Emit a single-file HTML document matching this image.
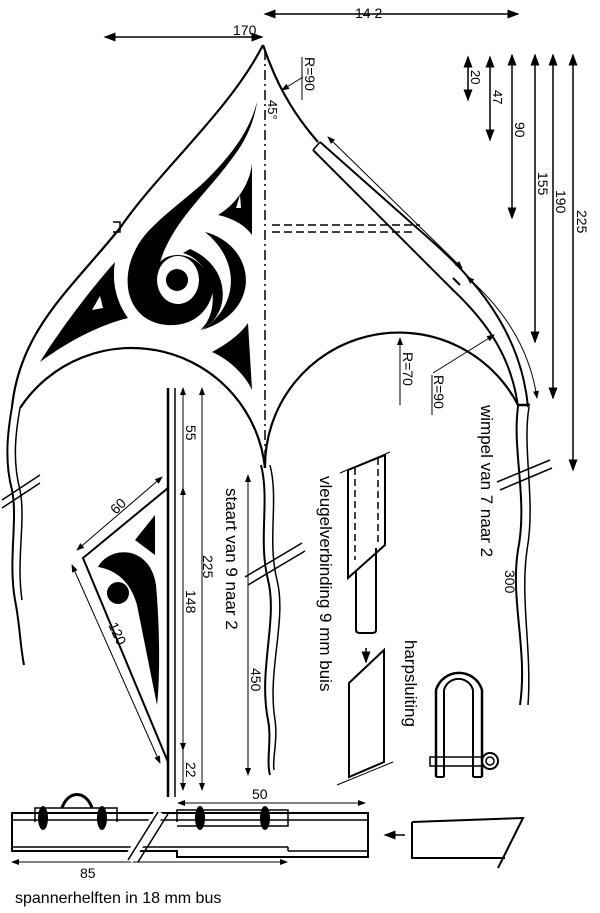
<!DOCTYPE html>
<html><head><meta charset="utf-8"><style>
html,body{margin:0;padding:0;background:#fff}
svg{display:block}
text{font-family:"Liberation Sans",sans-serif;fill:#000}
</style></head><body>
<svg width="600" height="913" viewBox="0 0 600 913" xmlns="http://www.w3.org/2000/svg">
<defs>
<marker id="a" markerWidth="8" markerHeight="8" refX="7" refY="4" orient="auto-start-reverse"><path d="M0,1 L8,4 L0,7z" fill="#000"/></marker>
</defs>
<g stroke="#000" fill="none" stroke-width="1.5">
<!-- top dims -->
<line x1="105" y1="37" x2="262" y2="37" marker-start="url(#a)" marker-end="url(#a)"/>
<line x1="265" y1="14" x2="518" y2="14" marker-start="url(#a)" marker-end="url(#a)"/>
<!-- kite outline left -->
<path d="M263,45 C230,110 160,170 120,228 C70,290 20,330 12,407" stroke-width="2.2"/>
<path d="M113,222 L120,222 L120,232 L113,232" stroke-width="1.5"/>
<path d="M20,408 A134,134 0 0 1 265,468" stroke-width="2.2"/>
<!-- right edge -->
<path d="M263,45 C275,80 290,110 318,142" stroke-width="2.2"/>
<path d="M320,142 L417,228 C460,265 520,320 528,407" stroke-width="2"/>
<path d="M313,150 L453,290 C490,325 512,360 518,407" stroke-width="2"/>
<path d="M313,150 L320,142"/><path d="M517,405 L530,405" stroke-width="2.5"/>
<line x1="453" y1="278" x2="460" y2="285" stroke-width="2"/>
<path d="M265,468 A134,134 0 0 1 518,405" stroke-width="2.2"/>
<line x1="265" y1="50" x2="265" y2="465" stroke-dasharray="10,4,2,4"/>
<line x1="272" y1="225" x2="420" y2="225" stroke-dasharray="8,4"/>
<line x1="272" y1="232" x2="415" y2="232" stroke-dasharray="8,4"/>
<line x1="328" y1="137" x2="462" y2="268" marker-start="url(#a)" marker-end="url(#a)" stroke-width="1"/>
<path d="M467,277 C505,310 530,350 537,398" marker-start="url(#a)" marker-end="url(#a)" stroke-width="1"/>
<line x1="433" y1="373" x2="494" y2="335" marker-end="url(#a)" stroke-width="1"/>
<line x1="303" y1="77" x2="282" y2="90" marker-end="url(#a)" stroke-width="1"/>
<line x1="302" y1="57" x2="302" y2="100" stroke-width="1"/>
<line x1="432" y1="375" x2="432" y2="415" stroke-width="1"/>
<line x1="400" y1="405" x2="400" y2="338" marker-end="url(#a)" stroke-width="1"/>
<!-- right dims -->
<line x1="468" y1="57" x2="468" y2="100" marker-start="url(#a)" marker-end="url(#a)"/>
<line x1="490" y1="57" x2="490" y2="140" marker-start="url(#a)" marker-end="url(#a)"/>
<line x1="512" y1="55" x2="512" y2="218" marker-start="url(#a)" marker-end="url(#a)"/>
<line x1="535" y1="55" x2="535" y2="342" marker-start="url(#a)" marker-end="url(#a)"/>
<line x1="553" y1="55" x2="553" y2="398" marker-start="url(#a)" marker-end="url(#a)"/>
<line x1="573" y1="55" x2="573" y2="470" marker-start="url(#a)" marker-end="url(#a)"/>
<!-- streamers -->
<path d="M12,407 C8,430 4,460 12,490 C18,520 8,560 15,600 C20,625 20,645 24,665" stroke-width="2"/>
<path d="M20,408 C16,430 12,460 20,490 C26,520 16,560 22,600"/>
<path d="M261,465 C270,500 258,540 268,580 C278,620 258,670 268,720 C272,740 266,760 270,775" stroke-width="2"/>
<path d="M270,465 C279,500 267,540 277,580 C287,620 267,670 275,720 C278,740 272,760 274,770"/>
<path d="M518,407 C512,450 528,500 518,550 C510,600 528,650 520,705" stroke-width="2"/>
<path d="M529,407 C522,450 536,500 527,550 C520,600 532,650 528,705"/>
<line x1="2" y1="500" x2="40" y2="475"/><line x1="2" y1="508" x2="40" y2="483"/>
<line x1="245" y1="577" x2="302" y2="543"/><line x1="248" y1="585" x2="305" y2="551"/>
<line x1="497" y1="482" x2="550" y2="460"/><line x1="500" y1="490" x2="552" y2="468"/>
<!-- tail -->
<line x1="168" y1="388" x2="168" y2="797" stroke-width="2.5"/>
<line x1="175" y1="388" x2="175" y2="797" stroke-width="1.5"/>
<line x1="183" y1="388" x2="183" y2="790" marker-start="url(#a)" marker-end="url(#a)" stroke-width="1"/>
<line x1="202" y1="388" x2="202" y2="790" marker-start="url(#a)" marker-end="url(#a)" stroke-width="1"/>
<line x1="183" y1="488" x2="183" y2="750" marker-start="url(#a)" marker-end="url(#a)" stroke-width="1"/>
<line x1="248" y1="475" x2="248" y2="775" marker-start="url(#a)" marker-end="url(#a)" stroke-width="1"/>
<!-- small triangle -->
<path d="M168,488 L83,558 L168,762" stroke-width="2"/>
<line x1="77" y1="550" x2="162" y2="477" marker-start="url(#a)" marker-end="url(#a)" stroke-width="1"/>
<line x1="72" y1="565" x2="160" y2="763" marker-start="url(#a)" marker-end="url(#a)" stroke-width="1"/>
<!-- vleugelverbinding -->
<path d="M348,470 L385,455 L385,545 L348,578z" stroke-width="2"/>
<line x1="340" y1="473" x2="390" y2="452" stroke-width="1"/>
<line x1="355" y1="468" x2="355" y2="560" stroke-dasharray="7,4"/>
<line x1="378" y1="458" x2="378" y2="545" stroke-dasharray="7,4"/>
<path d="M356,570 L356,630 Q356,633 360,633 L372,633 Q376,633 376,630 L376,548" stroke-width="2"/>
<line x1="366" y1="648" x2="366" y2="662" marker-end="url(#a)"/>
<path d="M349,683 L384,650 L384,762 L349,777z" stroke-width="2"/>
<line x1="337" y1="785" x2="393" y2="762" stroke-width="1"/>
<!-- shackle -->
<path d="M436,777 L436,690 A24,24 0 0 1 482,690 L482,777" stroke-width="2.5"/>
<path d="M444,777 L444,690 A15,15 0 0 1 473,690 L473,777" stroke-width="2"/>
<path d="M436,777 L444,777 M473,777 L482,777" stroke-width="2"/>
<rect x="430" y="757" width="52" height="9"/>
<circle cx="490" cy="761" r="8" stroke-width="2"/><circle cx="490" cy="761" r="4"/>
<!-- bottom tube -->
<path d="M12,813 L368,813 L368,857 L177,857 L177,851 L12,851z" stroke-width="2"/>
<line x1="12" y1="820" x2="368" y2="820" stroke-width="1.5"/>
<line x1="12" y1="847" x2="288" y2="847" stroke-width="1.5"/>
<line x1="288" y1="847" x2="288" y2="851" stroke-width="1.5"/>
<line x1="288" y1="851" x2="368" y2="851" stroke-width="1.5"/>
<path d="M35,822 L35,808 L117,808 L117,822" stroke-width="1.5"/>
<path d="M177,822 L177,810 L288,810 L288,826 L177,826" stroke-width="1.5"/>
<line x1="178" y1="803" x2="365" y2="803" marker-start="url(#a)" marker-end="url(#a)" stroke-width="1"/>
<line x1="12" y1="862" x2="287" y2="862" marker-start="url(#a)" marker-end="url(#a)" stroke-width="1"/>
<line x1="128" y1="860" x2="160" y2="812" stroke="#fff" stroke-width="10"/>
<line x1="128" y1="860" x2="158" y2="812"/><line x1="138" y1="862" x2="168" y2="814"/>
<path d="M62,808 C68,790 86,790 92,808" stroke-width="3"/>
<path d="M412,822 L523,818 L498,868 M412,822 L412,858 L505,858" stroke-width="2"/>
<line x1="405" y1="835" x2="385" y2="835" marker-end="url(#a)"/>
</g>
<g fill="#000">
<!-- kite black shapes -->
<path d="M257,102 C240,170 180,195 145,235 C118,268 122,315 160,324 C190,330 210,312 213,290 C205,250 170,250 160,262 C180,200 245,170 257,102z"/>
<path d="M257,102 C250,150 215,180 180,205 C200,185 245,150 257,102z"/>
<ellipse cx="178" cy="280" rx="21" ry="24" fill="#fff"/>
<circle cx="177" cy="280" r="11"/>
<path d="M183,253 C215,262 222,312 200,330 C230,318 234,268 190,249z"/>
<path d="M205,232 C255,245 265,310 202,330 C240,305 240,260 205,232z"/>
<path d="M252,163 C250,185 235,205 218,215 C232,218 245,225 252,235z"/>
<path d="M115,262 C90,290 60,330 40,362 C70,340 100,325 128,318 C115,300 112,280 115,262z"/>
<path d="M248,323 C240,335 225,345 212,352 C230,360 245,375 252,390z"/>
<path d="M155,515 L135,540 L155,555z"/>
<path d="M98,567 C110,545 150,545 156,585 C160,630 160,680 157,705 C150,670 142,630 137,605 C130,580 115,570 98,567z"/>
<circle cx="118" cy="593" r="11"/>
<ellipse cx="43" cy="818" rx="5" ry="12"/><ellipse cx="102" cy="818" rx="5" ry="12"/>
<ellipse cx="200" cy="818" rx="5" ry="12"/><ellipse cx="265" cy="818" rx="5" ry="12"/>
</g>
<g fill="#fff"><path d="M100,296 L92,310 L103,308z"/><path d="M240,195 L236,208 L241,208z"/></g>
<g font-size="14">
<text x="233" y="35">170</text>
<text x="355" y="18">14 2</text>
<g transform="translate(305,57) rotate(90)"><text>R=90</text></g>
<g transform="translate(268,100) rotate(90)"><text font-size="13">45°</text></g>
<g transform="translate(471,70) rotate(90)"><text font-size="13">20</text></g>
<g transform="translate(493,90) rotate(90)"><text font-size="13">47</text></g>
<g transform="translate(515,122) rotate(90)"><text>90</text></g>
<g transform="translate(538,172) rotate(90)"><text>155</text></g>
<g transform="translate(556,190) rotate(90)"><text>190</text></g>
<g transform="translate(577,210) rotate(90)"><text>225</text></g>
<g transform="translate(403,352) rotate(90)"><text>R=70</text></g>
<g transform="translate(434,375) rotate(90)"><text>R=90</text></g>
<g transform="translate(186,425) rotate(90)"><text>55</text></g>
<g transform="translate(203,555) rotate(90)"><text>225</text></g>
<g transform="translate(186,590) rotate(90)"><text>148</text></g>
<g transform="translate(186,762) rotate(90)"><text>22</text></g>
<g transform="translate(251,668) rotate(90)"><text>450</text></g>
<g transform="translate(226,488) rotate(90)"><text font-size="17">staart  van 9 naar 2</text></g>
<g transform="translate(481,405) rotate(90)"><text font-size="17">wimpel  van 7 naar 2</text></g>
<g transform="translate(505,570) rotate(90)"><text>300</text></g>
<g transform="translate(320,476) rotate(90)"><text font-size="17">vleugelverbinding 9 mm buis</text></g>
<g transform="translate(405,640) rotate(90)"><text font-size="17">harpsluiting</text></g>
<g transform="translate(116,515) rotate(-45)"><text>60</text></g>
<g transform="translate(108,625) rotate(65)"><text>120</text></g>
<text x="252" y="799">50</text>
<text x="80" y="878">85</text>
<text x="15" y="903" font-size="16">spannerhelften in 18 mm  bus</text>
</g>
</svg>
</body></html>
